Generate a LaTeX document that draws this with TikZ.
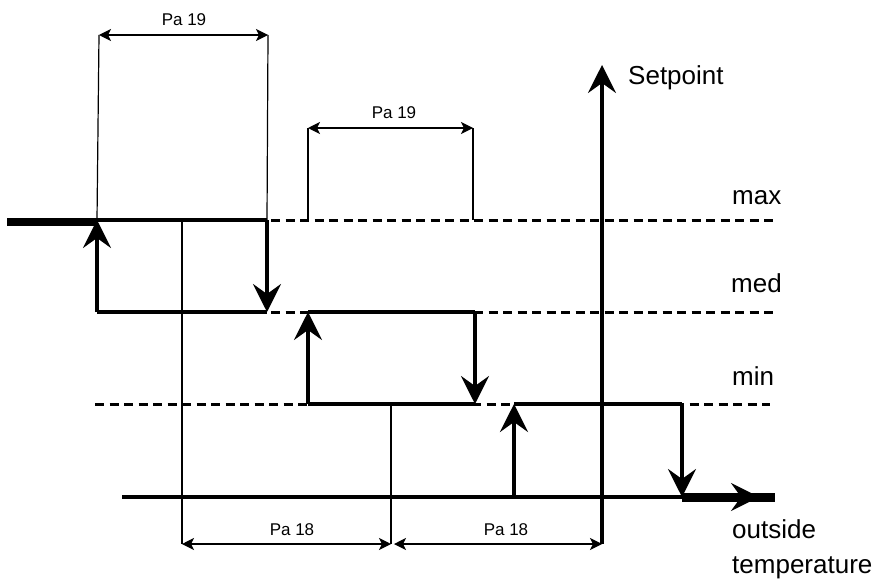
\documentclass[tikz,border=0pt]{standalone}
\usepackage{fontspec}
\setmainfont{Liberation Sans}
\usetikzlibrary{arrows.meta}
\tikzset{
  thickline/.style={line width=3.5pt},
  thinline/.style={line width=1.2pt},
  heavy/.style={line width=8pt},
  levelline/.style={line width=3pt, dash pattern=on 9pt off 5.5pt},
  bigtip/.style={-{Stealth[length=28pt,width=28pt,inset=10pt]}},
  dimarrow/.style={thinline, {Stealth[length=12pt,width=12pt,inset=3pt]}-{Stealth[length=12pt,width=12pt,inset=3pt]}},
  biglabel/.style={inner sep=0pt, font=\fontsize{26}{30}\selectfont},
  smalllabel/.style={inner sep=0pt, font=\fontsize{17}{20}\selectfont},
}
\begin{document}
\begin{tikzpicture}[x=1pt,y=-1pt]
\useasboundingbox (0,0) rectangle (877,583);
% key coordinates
\coordinate (L0) at (7,222);
\coordinate (L1) at (98,222);
\coordinate (A1) at (97,220);
\coordinate (A2) at (97,312);
\coordinate (B1) at (267,220);
\coordinate (B2) at (267,312);
\coordinate (C1) at (308,312);
\coordinate (C2) at (308,404);
\coordinate (D1) at (475,312);
\coordinate (D2) at (475,404);
\coordinate (E1) at (514,404);
\coordinate (E2) at (514,497);
\coordinate (F1) at (682,404);
\coordinate (F2) at (682,497);
\coordinate (G0) at (122,497);
\coordinate (GE) at (775,497);
\coordinate (GT) at (759,497);
% dashed levels
\coordinate (maxS) at (97,220);   \coordinate (maxE) at (776,220);
\coordinate (medS) at (97,312);   \coordinate (medE) at (776,312);
\coordinate (minS) at (95,404);   \coordinate (minE) at (770,404);
\draw[levelline] (maxS) -- (maxE);
\draw[levelline] (medS) -- (medE);
\draw[levelline] (minS) -- (minE);
% axis
\coordinate (axB) at (602,544);
\coordinate (axT) at (602,65);
\draw[thickline, -{Stealth[length=28pt,width=28pt,inset=10pt]}] (axB) -- (axT);
% dimension guides
\coordinate (p19a) at (99,35);  \coordinate (p19b) at (268,35);
\coordinate (q19a) at (308,128); \coordinate (q19b) at (473,128);
\coordinate (q19aL) at (308,220); \coordinate (q19bL) at (473,220);
\coordinate (v1T) at (182,220); \coordinate (v1B) at (182,544);
\coordinate (v2T) at (391,404); \coordinate (v2B) at (391,544);
\coordinate (r18a) at (182,544); \coordinate (r18b) at (391,544);
\coordinate (s18a) at (394,544); \coordinate (s18b) at (602,544);
\draw[thinline] (p19a) -- (A1);
\draw[thinline] (p19b) -- (B1);
\draw[thinline] (q19a) -- (q19aL);
\draw[thinline] (q19b) -- (q19bL);
\draw[thinline] (v1T) -- (v1B);
\draw[thinline] (v2T) -- (v2B);
\draw[dimarrow] (p19a) -- (p19b);
\draw[dimarrow] (q19a) -- (q19b);
\draw[dimarrow] (r18a) -- (r18b);
\draw[dimarrow] (s18a) -- (s18b);
% hysteresis curve
\draw[heavy] (L0) -- (L1);
\draw[thickline] (A2) -- (B2);
\draw[thickline] (A1) -- (B1);
\draw[thickline] (C1) -- (D1);
\draw[thickline] (C2) -- (D2);
\draw[thickline] (E1) -- (F1);
\draw[thickline] (G0) -- (F2);
\draw[thickline, bigtip] (A2) -- (A1);
\draw[thickline, bigtip] (B1) -- (B2);
\draw[thickline, bigtip] (C2) -- (C1);
\draw[thickline, bigtip] (D1) -- (D2);
\draw[thickline, bigtip] (E2) -- (E1);
\draw[thickline, bigtip] (F1) -- (F2);
\draw[line width=9pt] (F2) -- (GE);
\draw[line width=3pt, bigtip] (F2) -- (GT);
% labels
\node[biglabel, anchor=base west] (setp) at (628,85) {Setpoint};
\node[biglabel, anchor=base west] (lmax) at (732,204) {max};
\node[biglabel, anchor=base west] (lmed) at (731,292) {med};
\node[biglabel, anchor=base west] (lmin) at (732,385) {min};
\node[biglabel, anchor=base west] (lout) at (732,538) {outside};
\node[biglabel, anchor=base west] (ltemp) at (732,573) {temperature};
\node[smalllabel, anchor=base] (pa19a) at (184,26) {Pa 19};
\node[smalllabel, anchor=base] (pa19b) at (394,118) {Pa 19};
\node[smalllabel, anchor=base] (pa18a) at (292,535) {Pa 18};
\node[smalllabel, anchor=base] (pa18b) at (506,535) {Pa 18};
\end{tikzpicture}
\end{document}
